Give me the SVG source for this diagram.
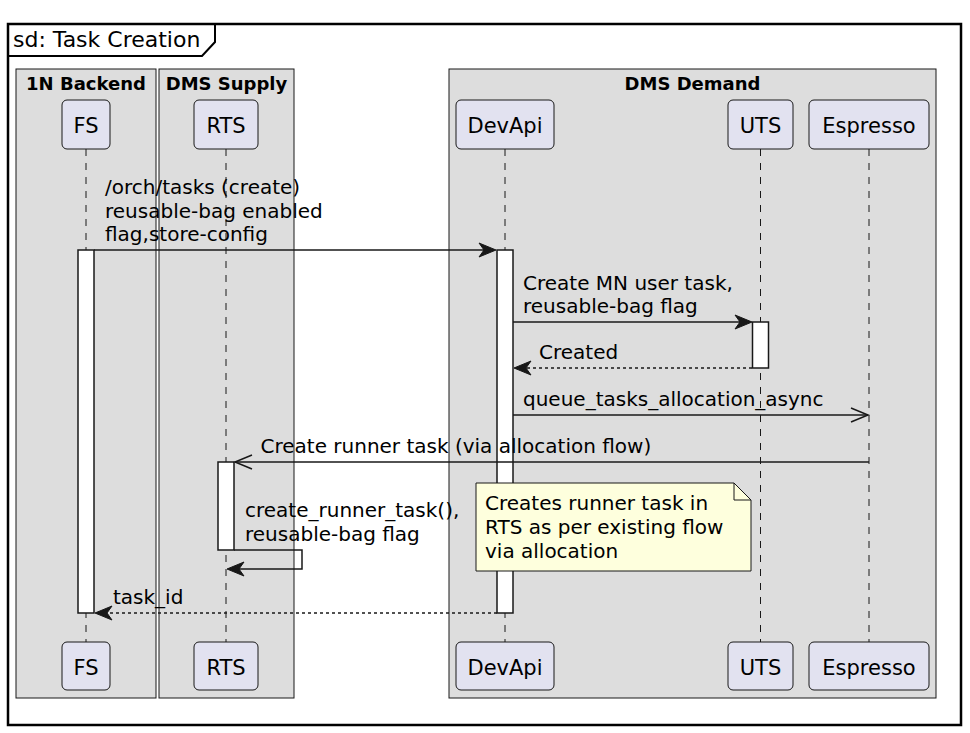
<svg xmlns="http://www.w3.org/2000/svg" width="970" height="733" viewBox="0 0 970 733">
<style>
text{font-family:"DejaVu Sans","Liberation Sans",sans-serif;fill:#000}
.grp{fill:#DDDDDD;stroke:#181818;stroke-width:1}
.glbl{font-size:18px;font-weight:bold;text-anchor:middle}
.part rect{fill:#E2E2F0;stroke:#181818;stroke-width:1}
.part text{font-size:21px;text-anchor:middle}
.life{stroke:#181818;stroke-width:1;stroke-dasharray:7,7}
.act{fill:#FFFFFF;stroke:#181818;stroke-width:1.5}
.msg{stroke:#181818;stroke-width:1.5;fill:none}
.ret{stroke:#181818;stroke-width:1.5;fill:none;stroke-dasharray:3,3}
.mt{font-size:20px}
.head{fill:#181818;stroke:#181818;stroke-width:1}
.open{fill:none;stroke:#181818;stroke-width:1.5}
</style>
<rect width="970" height="733" fill="#FFFFFF"/>
<g id="frame">
<rect x="8" y="24" width="953" height="701" fill="none" stroke="#000" stroke-width="2.5"/>
<path d="M8,56 L202,56 L215,42 L215,24" fill="none" stroke="#000" stroke-width="2"/>
<text x="13" y="47" style="font-size:22px">sd: Task Creation</text>
</g>
<g id="box-1n-backend">
<rect class="grp" x="16" y="69" width="140" height="629"/>
<text class="glbl" x="86" y="90">1N Backend</text>
</g>
<g id="box-dms-supply">
<rect class="grp" x="159" y="69" width="135" height="629"/>
<text class="glbl" x="226.5" y="90">DMS Supply</text>
</g>
<g id="box-dms-demand">
<rect class="grp" x="449" y="69" width="487" height="629"/>
<text class="glbl" x="692.5" y="90">DMS Demand</text>
</g>
<g id="lifelines">
<line class="life" x1="86" y1="149" x2="86" y2="642"/>
<line class="life" x1="226" y1="149" x2="226" y2="642"/>
<line class="life" x1="505" y1="149" x2="505" y2="642"/>
<line class="life" x1="760.5" y1="149" x2="760.5" y2="642"/>
<line class="life" x1="869" y1="149" x2="869" y2="642"/>
</g>
<g id="FS" class="part">
<rect x="62" y="100" width="48" height="49" rx="5"/>
<text x="86" y="133">FS</text>
<rect x="62" y="642" width="48" height="48" rx="5"/>
<text x="86" y="675">FS</text>
</g>
<g id="RTS" class="part">
<rect x="194" y="100" width="64" height="49" rx="5"/>
<text x="226" y="133">RTS</text>
<rect x="194" y="642" width="64" height="48" rx="5"/>
<text x="226" y="675">RTS</text>
</g>
<g id="DevApi" class="part">
<rect x="456" y="100" width="98" height="49" rx="5"/>
<text x="505" y="133">DevApi</text>
<rect x="456" y="642" width="98" height="48" rx="5"/>
<text x="505" y="675">DevApi</text>
</g>
<g id="UTS" class="part">
<rect x="728" y="100" width="65" height="49" rx="5"/>
<text x="760.5" y="133">UTS</text>
<rect x="728" y="642" width="65" height="48" rx="5"/>
<text x="760.5" y="675">UTS</text>
</g>
<g id="Espresso" class="part">
<rect x="809" y="100" width="120" height="49" rx="5"/>
<text x="869" y="133">Espresso</text>
<rect x="809" y="642" width="120" height="48" rx="5"/>
<text x="869" y="675">Espresso</text>
</g>
<g id="activations">
<rect class="act" x="78" y="250" width="16" height="363"/>
<rect class="act" x="497" y="250" width="16" height="363"/>
<rect class="act" x="752.5" y="322" width="16" height="46"/>
<rect class="act" x="218" y="462" width="16" height="88"/>
</g>
<g id="connectors">
<line class="msg" x1="94" y1="250" x2="494" y2="250"/>
<polygon class="head" points="496,250 479,243 484,250 479,257"/>
<text class="mt" x="105" y="194">/orch/tasks (create)</text>
<text class="mt" x="105" y="217.5">reusable-bag enabled</text>
<text class="mt" x="105" y="241">flag,store-config</text>

<line class="msg" x1="513" y1="322" x2="750" y2="322"/>
<polygon class="head" points="752,322 735,315 740,322 735,329"/>
<text class="mt" x="523" y="289.5">Create MN user task,</text>
<text class="mt" x="523" y="313">reusable-bag flag</text>

<line class="ret" x1="752" y1="368" x2="516" y2="368"/>
<polygon class="head" points="514,368 531,361 526,368 531,375"/>
<text class="mt" x="539" y="359">Created</text>

<line class="msg" x1="513" y1="415" x2="868" y2="415"/>
<polyline class="open" points="851,408 868,415 851,422"/>
<text class="mt" x="523" y="406">queue_tasks_allocation_async</text>

<line class="msg" x1="869" y1="462" x2="235" y2="462"/>
<polyline class="open" points="252,455 235,462 252,469"/>
<text class="mt" x="260.5" y="453">Create runner task (via allocation flow)</text>

<polyline class="msg" points="234,550 302,550 302,569 229,569"/>
<polygon class="head" points="227,569 244,562 239,569 244,576"/>
<text class="mt" x="245" y="517">create_runner_task(),</text>
<text class="mt" x="245" y="540.5">reusable-bag flag</text>

<line class="ret" x1="497" y1="613" x2="97" y2="613"/>
<polygon class="head" points="95,613 112,606 107,613 112,620"/>
<text class="mt" x="113" y="604">task_id</text>
</g>
<g id="note">
<path d="M476,483 L734,483 L751,500 L751,571 L476,571 Z" fill="#FEFFDD" stroke="#181818" stroke-width="1"/>
<path d="M734,483 L734,500 L751,500" fill="none" stroke="#181818" stroke-width="1"/>
<text class="mt" x="485" y="510">Creates runner task in</text>
<text class="mt" x="485" y="534">RTS as per existing flow</text>
<text class="mt" x="485" y="557.5">via allocation</text>
</g>
</svg>
